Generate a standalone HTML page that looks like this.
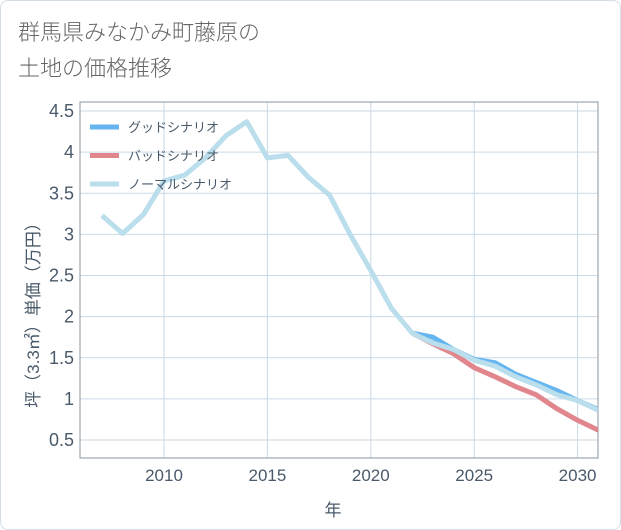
<!DOCTYPE html>
<html><head><meta charset="utf-8"><style>
body{margin:0;background:#fff;}
#wrap{position:relative;width:619px;height:528px;border:1px solid #d5dde6;border-radius:8px;overflow:hidden;font-family:"Liberation Sans","Noto Sans CJK JP",sans-serif;}
#title{position:absolute;left:17px;top:14px;font-size:22px;line-height:36px;color:#666;font-weight:300;}
svg{position:absolute;left:0;top:0;}
</style></head><body>
<div id="wrap">
<div id="title">群馬県みなかみ町藤原の<br>土地の価格推移</div>
<svg id="chart" width="621" height="530"></svg>
</div>
<script>
const years=[2007,2008,2009,2010,2011,2012,2013,2014,2015,2016,2017,2018,2019,2020,2021,2022,2023,2024,2025,2026,2027,2028,2029,2030,2031];
const normal=[3.23,3.01,3.24,3.65,3.72,3.93,4.2,4.37,3.93,3.96,3.69,3.48,3.0,2.56,2.1,1.8,1.68,1.6,1.47,1.4,1.27,1.17,1.05,0.98,0.86];
const goodYears=[2022,2023,2024,2025,2026,2027,2028,2029,2030,2031];
const good=[1.8,1.75,1.6,1.48,1.44,1.3,1.2,1.1,0.98,0.87];
const bad=[1.8,1.67,1.55,1.38,1.27,1.15,1.05,0.88,0.74,0.62];
const xTicks=[2010,2015,2020,2025,2030];
const yTicks=[0.5,1,1.5,2,2.5,3,3.5,4,4.5];
const yLabels=["0.5","1","1.5","2","2.5","3","3.5","4","4.5"];
const legendLabels=["グッドシナリオ","バッドシナリオ","ノーマルシナリオ"];
const legendColors=["#64b5f0","#e0868c","#badeec"];

const NS="http://www.w3.org/2000/svg";
const svg=document.getElementById('chart');
const L=79,R=597,T=101,B=457;
const x=v=>163+(v-2010)*20.68;
const y=v=>439-(v-0.5)*82.25;
function mk(tag,attrs){const e=document.createElementNS(NS,tag);for(const k in attrs)e.setAttribute(k,attrs[k]);svg.appendChild(e);return e;}
xTicks.forEach(t=>{
  const g=mk('line',{x1:x(t),x2:x(t),y1:T,y2:B,stroke:'#c9d9e6','stroke-width':1});
  
  
  const tx=mk('text',{x:x(t),y:480,'text-anchor':'middle','font-size':17,fill:'#4a5a6a'});
  tx.textContent=t;
  
  
});
yTicks.forEach((t,i)=>{
  const g=mk('line',{x1:L,x2:R,y1:y(t),y2:y(t),stroke:'#c9d9e6','stroke-width':1});
  
  
  const tx=mk('text',{x:73,y:y(t)+6,'text-anchor':'end','font-size':18,fill:'#4a5a6a'});
  tx.textContent=yLabels[i];
  
  
});
const frame=mk('rect',{x:L,y:T,width:R-L,height:B-T,fill:'none',stroke:'#8a96a2','stroke-width':1});


const xt=mk('text',{x:332,y:515,'text-anchor':'middle','font-size':17,fill:'#4a5a6a'});
xt.textContent='年';


const yt=mk('text',{x:0,y:0,'text-anchor':'middle','font-size':17,fill:'#4a5a6a',transform:'translate(38,310) rotate(-90)'});
yt.textContent='坪（3.3㎡）単価（万円）';


const clip=document.createElementNS(NS,'clipPath');clip.setAttribute('id','pc');
const cr=document.createElementNS(NS,'rect');cr.setAttribute('x',L);cr.setAttribute('y',T);cr.setAttribute('width',R-L);cr.setAttribute('height',B-T);clip.appendChild(cr);svg.appendChild(clip);
function line(xs,vs,color,name){
  const p=mk('polyline',{points:xs.map((v,i)=>x(v)+','+y(vs[i])).join(' '),fill:'none',stroke:color,'stroke-width':5,'stroke-linejoin':'round','clip-path':'url(#pc)'});
  
  
}
line(goodYears,good,legendColors[0],'good-scenario-line');
line(goodYears,bad,legendColors[1],'bad-scenario-line');
line(years,normal,legendColors[2],'normal-scenario-line');
legendLabels.forEach((lab,i)=>{
  const yy=126+i*28.5;
  const s=mk('line',{x1:89,x2:118,y1:yy,y2:yy,stroke:legendColors[i],'stroke-width':5});
  
  
  const t=mk('text',{x:127,y:yy+5,'font-size':13,fill:'#4a5a6a'});
  t.textContent=lab;
  
  
});
</script>
</body></html>
